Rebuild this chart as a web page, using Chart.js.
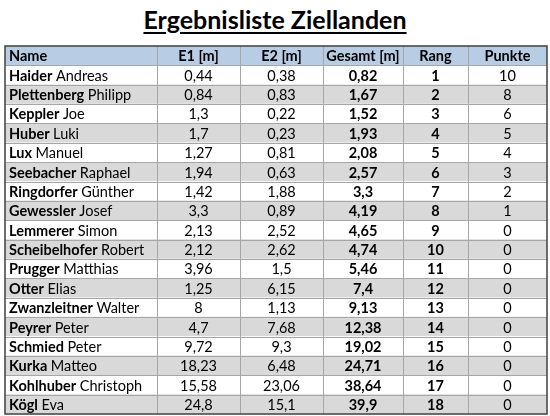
<!DOCTYPE html>
<html><head><meta charset="utf-8">
<script src="https://cdn.jsdelivr.net/npm/chart.js@4"></script>
<style>
body{margin:0;background:#fff;width:550px;height:416px;overflow:hidden;position:relative;font-family:Lato,sans-serif}
#t{position:absolute;top:4px;left:0;width:550px;text-align:center;font-size:25px;font-weight:bold;text-decoration:underline;text-underline-offset:3px;color:#000}
canvas{position:absolute;top:0;left:0}
</style></head><body>
<div id="t">Ergebnisliste Ziellanden</div>
<canvas id="c" width="550" height="416"></canvas>
<script>
const headers=["Name","E1 [m]","E2 [m]","Gesamt [m]","Rang","Punkte"];
const lastNames=["Haider","Plettenberg","Keppler","Huber","Lux","Seebacher","Ringdorfer","Gewessler","Lemmerer","Scheibelhofer","Prugger","Otter","Zwanzleitner","Peyrer","Schmied","Kurka","Kohlhuber","Kögl"];
const firstNames=["Andreas","Philipp","Joe","Luki","Manuel","Raphael","Günther","Josef","Simon","Robert","Matthias","Elias","Walter","Peter","Peter","Matteo","Christoph","Eva"];
const e1=["0,44","0,84","1,3","1,7","1,27","1,94","1,42","3,3","2,13","2,12","3,96","1,25","8","4,7","9,72","18,23","15,58","24,8"];
const e2=["0,38","0,83","0,22","0,23","0,81","0,63","1,88","0,89","2,52","2,62","1,5","6,15","1,13","7,68","9,3","6,48","23,06","15,1"];
const gesamt=["0,82","1,67","1,52","1,93","2,08","2,57","3,3","4,19","4,65","4,74","5,46","7,4","9,13","12,38","19,02","24,71","38,64","39,9"];
const rang=["1","2","3","4","5","6","7","8","9","10","11","12","13","14","15","16","17","18"];
const punkte=["10","8","6","5","4","3","2","1","0","0","0","0","0","0","0","0","0","0"];
const colEdges=[0,152,235,318,398,463,542];
const rows=["header",...lastNames.map((n,i)=>n+" "+firstNames[i])];
const bg=rows.map((r,i)=>i===0?"#b8cce4":(i%2===0?"#d9d9d9":"#ffffff"));
const F='Lato, sans-serif';const S="14.5px ";
const tablePlugin={id:'tbl',afterDatasetsDraw(ch){
 const ctx=ch.ctx,x=ch.scales.x,y=ch.scales.y;
 const step=Math.abs(y.getPixelForValue(1)-y.getPixelForValue(0));
 const top=y.getPixelForValue(0)-step/2,bot=y.getPixelForValue(rows.length-1)+step/2;
 const L=x.getPixelForValue(0),R=x.getPixelForValue(542);
 ctx.save();ctx.strokeStyle="#a6a6a6";ctx.lineWidth=1;
 for(let i=1;i<rows.length;i++){const yy=Math.round(y.getPixelForValue(i)-step/2)+0.5;ctx.beginPath();ctx.moveTo(L,yy);ctx.lineTo(R,yy);ctx.stroke();}
 colEdges.slice(1,-1).forEach(c=>{const xx=Math.round(x.getPixelForValue(c))+0.5;ctx.beginPath();ctx.moveTo(xx,top);ctx.lineTo(xx,bot);ctx.stroke();});
 ctx.strokeStyle="#404040";ctx.lineWidth=1.5;ctx.strokeRect(L,top,R-L,bot-top);
 ctx.fillStyle="#000";ctx.textBaseline="middle";
 const cx=k=>(x.getPixelForValue(colEdges[k])+x.getPixelForValue(colEdges[k+1]))/2;
 const yh=y.getPixelForValue(0)+1;
 ctx.font="bold "+S+F;
 ctx.textAlign="left";ctx.fillText(headers[0],x.getPixelForValue(0)+4,yh);
 ctx.textAlign="center";for(let k=1;k<6;k++)ctx.fillText(headers[k],cx(k),yh);
 lastNames.forEach((n,i)=>{const yy=y.getPixelForValue(i+1)+1;
  ctx.textAlign="left";ctx.font="bold "+S+F;const lx=x.getPixelForValue(0)+4;ctx.fillText(n,lx,yy);
  const w=ctx.measureText(n+" ").width;ctx.font=S+F;ctx.fillText(firstNames[i],lx+w,yy);
  ctx.textAlign="center";
  ctx.fillText(e1[i],cx(1),yy);ctx.fillText(e2[i],cx(2),yy);
  ctx.font="bold "+S+F;ctx.fillText(gesamt[i],cx(3),yy);ctx.fillText(rang[i],cx(4),yy);
  ctx.font=S+F;ctx.fillText(punkte[i],cx(5),yy);
 });
 ctx.restore();}};
new Chart(document.getElementById('c'),{type:'bar',
 data:{labels:rows,datasets:[{data:rows.map(()=>[0,542]),backgroundColor:bg,borderWidth:0,barPercentage:1,categoryPercentage:1}]},
 options:{indexAxis:'y',responsive:false,animation:false,
  layout:{padding:{left:5,right:3,top:46,bottom:2}},
  plugins:{legend:{display:false},tooltip:{enabled:false}},
  scales:{x:{display:false,min:0,max:542},y:{display:false}}},
 plugins:[tablePlugin]});
</script></body></html>
